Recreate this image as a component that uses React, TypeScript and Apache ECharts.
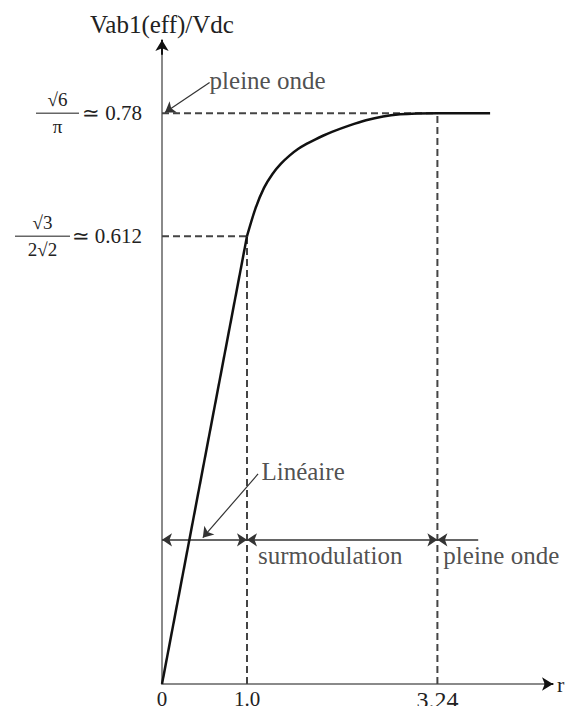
import React, { useEffect, useRef } from 'react';
import * as echarts from 'echarts';

const SERIF = '"Liberation Serif", "Times New Roman", serif';
const INK = '#222';

// Axis extents
const xMax = 4.6;
const yMax = 0.88;

// Tick positions and their labels
const xTicks = [0, 1.0, 3.24];
const xTickLabels = ['0', '1.0', '3.24'];
const yTicks = [0.612, 0.78];

// Fundamental line voltage ratio vs modulation index r
const linearZone = [
  [0, 0],
  [1.0, 0.612],
];
const overmodZone = [
  [1.0, 0.612],
  [1.1, 0.65],
  [1.2, 0.678],
  [1.3, 0.697],
  [1.4, 0.711],
  [1.5, 0.722],
  [1.6, 0.731],
  [1.7, 0.738],
  [1.8, 0.744],
  [1.9, 0.7495],
  [2.0, 0.7545],
  [2.2, 0.763],
  [2.4, 0.7703],
  [2.6, 0.7755],
  [2.8, 0.7785],
  [3.0, 0.7797],
  [3.24, 0.78],
  [3.86, 0.78],
];

// Dashed guides to the remarkable points
const guideLines = [
  [[0, 0.78], [3.24, 0.78]],
  [[0, 0.612], [1.0, 0.612]],
  [[1.0, 0], [1.0, 0.612]],
  [[3.24, 0], [3.24, 0.78]],
];

// Zone boundaries on the r axis, and the level of the zone arrows
const zoneBounds = [0, 1.0, 3.24, 3.72];
const zoneArrowLevel = 0.197;
const zoneNames = ['surmodulation', 'pleine onde'];
const zoneNameAnchors = [
  [1.13, 0.176],
  [3.31, 0.176],
];

// Callout texts with their anchor and pointer targets
const calloutTexts = ['Linéaire', 'pleine onde'];
const calloutAnchors = [
  [1.17, 0.29],
  [0.56, 0.825],
];
const calloutTails = [
  [1.13, 0.287],
  [0.56, 0.822],
];
const calloutHeads = [
  [0.48, 0.2],
  [0.035, 0.781],
];

const App: React.FC = () => {
  const ref = useRef<HTMLDivElement>(null);

  useEffect(() => {
    if (!ref.current) return;
    const chart = echarts.init(ref.current, null, { renderer: 'svg' });

    const doubleArrows = [
      [{ coord: [zoneBounds[0], zoneArrowLevel] }, { coord: [zoneBounds[1], zoneArrowLevel] }],
      [{ coord: [zoneBounds[1], zoneArrowLevel] }, { coord: [zoneBounds[2], zoneArrowLevel] }],
    ];
    const startArrows = [
      [{ coord: [zoneBounds[2], zoneArrowLevel] }, { coord: [zoneBounds[3], zoneArrowLevel] }],
    ];
    const pointerArrows = calloutTails.map((t, i) => [{ coord: t }, { coord: calloutHeads[i] }]);
    const axisArrows = [
      [{ coord: [0, yMax - 0.02] }, { coord: [0, yMax] }],
      [{ coord: [xMax - 0.1, 0] }, { coord: [xMax, 0] }],
    ];

    const labelPoints = [
      ...zoneNames.map((n, i) => ({ name: n, value: zoneNameAnchors[i] })),
      ...calloutTexts.map((n, i) => ({ name: n, value: calloutAnchors[i] })),
    ];

    const yLabel = (v: number) => {
      if (Math.abs(v - 0.78) < 1e-6) {
        return '{n|√6}{pA|}\n{barA|}{eqA|≃ 0.78}\n{n|π}{pA|}';
      }
      if (Math.abs(v - 0.612) < 1e-6) {
        return '{n|√3}{pB|}\n{barB|}{eqB|≃ 0.612}\n{n|2√2}{pB|}';
      }
      return '';
    };

    const fracText = { fontSize: 19, fontFamily: SERIF, color: INK, lineHeight: 21, align: 'center' };
    const eqText = { fontSize: 21, fontFamily: SERIF, color: INK, lineHeight: 6, align: 'right' };
    const bar = { height: 1.5, backgroundColor: '#666', lineHeight: 6 };

    const guideSeries = guideLines.map((seg) => ({
      type: 'line',
      data: seg,
      symbol: 'none',
      silent: true,
      lineStyle: { color: '#444', width: 2, type: [7, 4] },
      z: 2,
    }));

    chart.setOption({
      animation: false,
      backgroundColor: '#fff',
      grid: { left: 162, right: 14, top: 40, bottom: 22, outerBoundsMode: 'none', containLabel: false },
      xAxis: {
        type: 'value',
        min: 0,
        max: xMax,
        name: 'r',
        nameLocation: 'end',
        nameGap: 4,
        nameTextStyle: { fontFamily: SERIF, fontSize: 22, color: INK },
        splitLine: { show: false },
        axisTick: { show: false },
        axisLine: { show: true, lineStyle: { color: '#8a8a8a', width: 2 } },
        axisLabel: {
          customValues: xTicks,
          margin: 4,
          fontFamily: SERIF,
          fontSize: 21,
          color: INK,
          formatter: (v: number) => {
            const i = xTicks.findIndex((t) => Math.abs(t - v) < 1e-6);
            if (i < 0) return '';
            return i === 2 ? `{big|${xTickLabels[i]}}` : xTickLabels[i];
          },
          rich: { big: { fontFamily: SERIF, fontSize: 24, color: INK } },
        },
      },
      yAxis: {
        type: 'value',
        min: 0,
        max: yMax,
        name: 'Vab1(eff)/Vdc',
        nameLocation: 'end',
        nameGap: 3,
        nameTextStyle: { fontFamily: SERIF, fontSize: 25, color: INK, align: 'center' },
        splitLine: { show: false },
        axisTick: { show: false },
        axisLine: { show: true, lineStyle: { color: '#8a8a8a', width: 2 } },
        axisLabel: {
          customValues: yTicks,
          margin: 20,
          formatter: yLabel,
          rich: {
            n: fracText,
            pA: { width: 63, align: 'right' },
            barA: { ...bar, width: 43 },
            eqA: { ...eqText, width: 63 },
            pB: { width: 72, align: 'right' },
            barB: { ...bar, width: 55 },
            eqB: { ...eqText, width: 72 },
          },
        },
      },
      series: [
        ...guideSeries,
        {
          type: 'line',
          data: linearZone,
          symbol: 'none',
          lineStyle: { color: '#111', width: 2.5 },
          z: 5,
        },
        {
          type: 'line',
          data: overmodZone,
          symbol: 'none',
          smooth: 0.3,
          lineStyle: { color: '#111', width: 2.5 },
          z: 5,
        },
        {
          type: 'scatter',
          data: [],
          markLine: {
            silent: true,
            symbol: ['arrow', 'arrow'],
            symbolSize: 10,
            label: { show: false },
            lineStyle: { color: '#333', width: 1.5, type: 'solid' },
            data: doubleArrows,
          },
        },
        {
          type: 'scatter',
          data: [],
          markLine: {
            silent: true,
            symbol: ['arrow', 'none'],
            symbolSize: 10,
            label: { show: false },
            lineStyle: { color: '#333', width: 1.5, type: 'solid' },
            data: startArrows,
          },
        },
        {
          type: 'scatter',
          data: [],
          markLine: {
            silent: true,
            symbol: ['none', 'arrow'],
            symbolSize: 10,
            label: { show: false },
            lineStyle: { color: '#333', width: 1.2, type: 'solid' },
            data: pointerArrows,
          },
        },
        {
          type: 'scatter',
          data: [],
          markLine: {
            silent: true,
            symbol: ['none', 'arrow'],
            symbolSize: [10, 11],
            label: { show: false },
            lineStyle: { color: '#111', width: 2, type: 'solid' },
            data: axisArrows,
          },
        },
        {
          type: 'scatter',
          data: labelPoints,
          symbolSize: 0,
          silent: true,
          label: {
            show: true,
            position: 'right',
            distance: 0,
            formatter: '{b}',
            fontFamily: SERIF,
            fontSize: 25,
            color: INK,
          },
        },
      ],
    });

    return () => chart.dispose();
  }, []);

  return (
    <div
      ref={ref}
      style={{ position: 'fixed', left: 0, top: 0, width: 567, height: 706, background: '#fff' }}
    />
  );
};

export default App;
